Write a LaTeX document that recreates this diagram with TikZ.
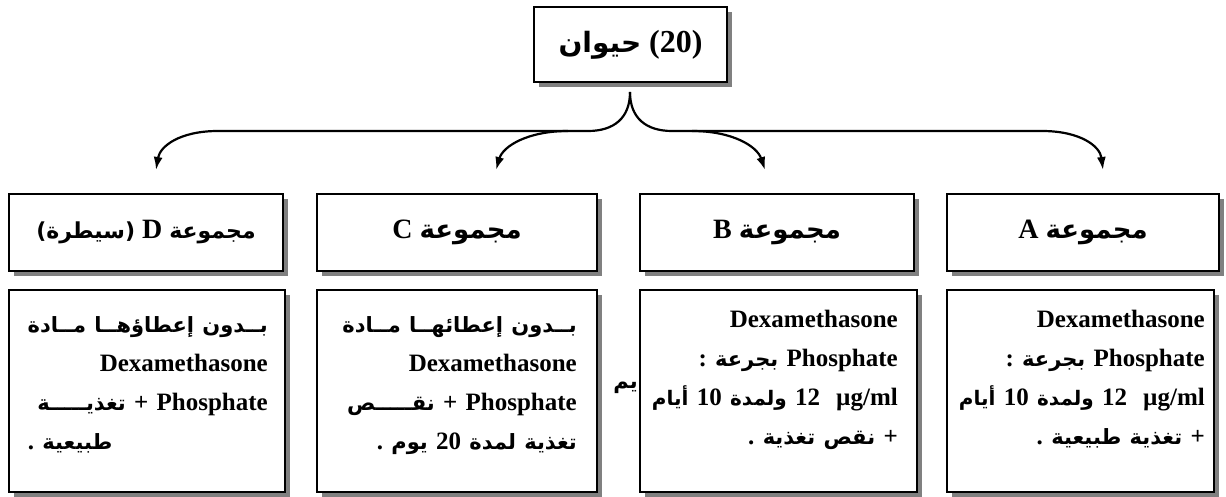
\documentclass[tikz,border=0pt]{standalone}
\usepackage{fontspec}
\setmainfont{Liberation Serif}
\newfontfamily\arfont[Script=Arabic]{DejaVu Sans}
\TeXXeTstate=1
\usetikzlibrary{shadows,arrows.meta}
\newcommand\ar[1]{{\arfont\fontsize{21}{39}\selectfont #1}}
\newcommand\ars[1]{{\arfont\fontsize{20}{39}\selectfont #1}}
\newcommand\arh[1]{{\arfont\fontsize{26}{30}\selectfont #1}}
\newcommand\ard[1]{{\arfont\fontsize{22}{30}\selectfont #1}}
\newcommand\art[1]{{\arfont\fontsize{28}{30}\selectfont #1}}
\newcommand\RL[1]{\mbox{\beginR #1\endR}}
\newcommand\LR[1]{\beginL #1\endL{}}
\newcommand\topstrut{\rule{0pt}{25pt}}
\tikzset{
  box/.style={draw=black, line width=1.6pt, fill=white, rectangle, inner sep=0pt,
    general shadow={fill=black!50, shadow xshift=5pt, shadow yshift=-5pt}},
  txt/.style={inner sep=0pt, font=\bfseries\fontsize{25}{39}\selectfont},
  head/.style={inner sep=0pt, font=\bfseries\fontsize{28}{30}\selectfont},
  body/.style={txt, align=right, text width=262pt, anchor=north east},
  brc/.style={line width=2.2pt, -{Latex[length=13pt,width=9pt]}},
}
\begin{document}
\begin{tikzpicture}[x=1pt,y=-1pt]
\useasboundingbox (0,0) rectangle (1226,497);
% top box
\node[box, minimum width=193pt, minimum height=75pt] (top) at (630.5,44.5) {};
\node[head, font=\bfseries\fontsize{32}{34}\selectfont] (toptxt) at (top.center) {\RL{\LR{(20)} \art{حيوان}}};
% brace
\coordinate (cusp) at (630,92);
\coordinate (tD) at (156,170);
\coordinate (tC) at (496,170);
\coordinate (tB) at (765,170);
\coordinate (tA) at (1103,170);
\coordinate (jC) at (568,131);
\coordinate (jB) at (692,131);
\draw[brc] (cusp) .. controls (630,118) and (614,131) .. (588,131) -- (218,131)
  .. controls (180,131) and (160,146) .. (tD);
\draw[brc] (cusp) .. controls (630,118) and (646,131) .. (672,131) -- (1042,131)
  .. controls (1080,131) and (1100,146) .. (tA);
\draw[brc] (jC) .. controls (528,131) and (503,146) .. (tC);
\draw[brc] (jB) .. controls (732,131) and (757,146) .. (tB);
% header boxes
\node[box, minimum width=274pt, minimum height=77pt] (hD) at (146,232.5) {};
\node[box, minimum width=280pt, minimum height=77pt] (hC) at (457,232.5) {};
\node[box, minimum width=274pt, minimum height=77pt] (hB) at (777,232.5) {};
\node[box, minimum width=272pt, minimum height=77pt] (hA) at (1083,232.5) {};
\node[head] (hDt) at (hD.center) {\RL{\ard{مجموعة} \LR{D} \ard{(سيطرة)}}};
\node[head] (hCt) at (hC.center) {\RL{\arh{مجموعة} \LR{C}}};
\node[head] (hBt) at (hB.center) {\RL{\arh{مجموعة} \LR{B}}};
\node[head] (hAt) at (hA.center) {\RL{\arh{مجموعة} \LR{A}}};
% content boxes
\node[box, minimum width=276pt, minimum height=202pt] (cD) at (147,391) {};
\node[box, minimum width=280pt, minimum height=202pt] (cC) at (457,391) {};
\node[box, minimum width=277pt, minimum height=202pt] (cB) at (778.5,391) {};
\node[box, minimum width=267pt, minimum height=202pt] (cA) at (1080.5,391) {};
\node[body] (bD) at (268,307) {%
\topstrut\RL{\ar{بــدون إعطاؤهــا مــادة}}\\
Dexamethasone\\
\RL{\LR{Phosphate} + \ar{تغذيـــــة}}\\
\makebox[240pt][l]{\RL{\ar{طبيعية} .}}};
\node[body] (bC) at (577,307) {%
\topstrut\RL{\ar{بــدون إعطائهــا مــادة}}\\
Dexamethasone\\
\RL{\LR{Phosphate} + \ar{نقـــــص}}\\
\RL{\ar{تغذية لمدة} \LR{20} \ar{يوم} .}};
\node[body] (bB) at (898,302) {%
\topstrut Dexamethasone\\
\RL{\LR{Phosphate} \ar{بجرعة} :}\\
\RL{\LR{µg/ml}\hspace{16pt}\LR{12} \ars{ولمدة} \LR{10} \ars{أيام}}\\
\RL{+ \ar{نقص تغذية} .}\hspace{8pt}};
\node[body] (bA) at (1205,302) {%
\topstrut Dexamethasone\\
\RL{\LR{Phosphate} \ar{بجرعة} :}\\
\RL{\LR{µg/ml}\hspace{16pt}\LR{12} \ars{ولمدة} \LR{10} \ars{أيام}}\\
\RL{+ \ar{تغذية طبيعية} .}\hspace{4pt}};
\node[txt, anchor=east] (stray) at (638,388) {\ar{يم}};
\end{tikzpicture}
\end{document}
